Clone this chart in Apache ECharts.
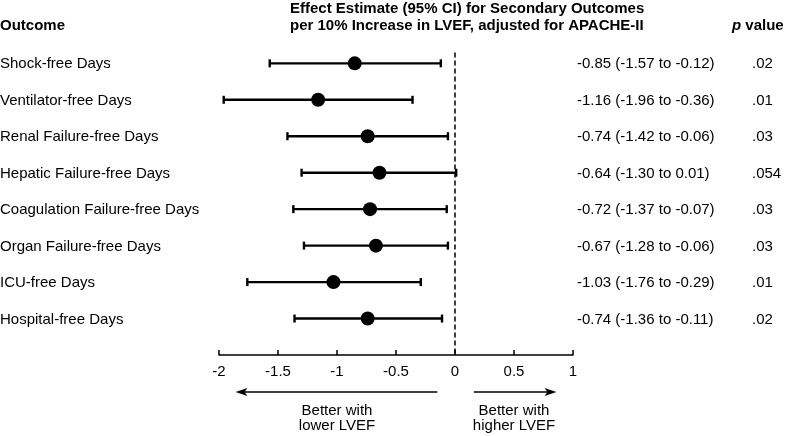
<!DOCTYPE html>
<html>
<head>
<meta charset="utf-8">
<script src="https://cdn.jsdelivr.net/npm/echarts@6/dist/echarts.min.js"></script>
<style>
html,body{margin:0;padding:0;background:#fff;}
#chart{width:787px;height:436px;}
</style>
</head>
<body>
<div id="chart"></div>
<script>
const categories = ['Shock-free Days', 'Ventilator-free Days', 'Renal Failure-free Days', 'Hepatic Failure-free Days', 'Coagulation Failure-free Days', 'Organ Failure-free Days', 'ICU-free Days', 'Hospital-free Days'];
const estimates = [-0.85, -1.16, -0.74, -0.64, -0.72, -0.67, -1.03, -0.74];
const lowerCI = [-1.57, -1.96, -1.42, -1.30, -1.37, -1.28, -1.76, -1.36];
const upperCI = [-0.12, -0.36, -0.06, 0.01, -0.07, -0.06, -0.29, -0.11];
const pValues = ['.02', '.01', '.03', '.054', '.03', '.03', '.01', '.02'];
const tickLabels = ['-2', '-1.5', '-1', '-0.5', '0', '0.5', '1'];
const xMin = -2, xMax = 1, xStep = 0.5;

const FONT = "'Liberation Sans', Arial, Helvetica, sans-serif";
const INK = '#000';

const chart = echarts.init(document.getElementById('chart'), null, {renderer: 'canvas'});

const data = categories.map((c, i) => [i + 1, estimates[i], lowerCI[i], upperCI[i]]);

function fmt(v) { return v.toFixed(2); }

const option = {
  backgroundColor: '#fff',
  animation: false,
  grid: {left: 219, right: 214, top: 52.4, bottom: 81},
  xAxis: {
    type: 'value', min: xMin, max: xMax, interval: xStep,
    axisLine: {show: true, onZero: false, lineStyle: {color: INK, width: 1.5}},
    axisTick: {show: true, inside: true, length: 5, lineStyle: {color: INK, width: 1.5}},
    axisLabel: {
      color: INK, fontSize: 15, fontFamily: FONT, margin: 9,
      formatter: function (v) { const idx = Math.round((v - xMin) / xStep); return tickLabels[idx] ?? ''; }
    },
    splitLine: {show: false}
  },
  yAxis: {type: 'value', inverse: true, min: 0.7, max: 9, show: false},
  graphic: [
    {type: 'text', left: 0, top: 18, style: {text: 'Outcome', font: 'bold 15px ' + FONT, fill: INK}},
    {type: 'text', left: 290, top: 0, style: {text: 'Effect Estimate (95% CI) for Secondary Outcomes\nper 10% Increase in LVEF, adjusted for APACHE-II', font: 'bold 15px ' + FONT, fill: INK, lineHeight: 17}},
    {type: 'text', left: 732, top: 18, style: {
      text: '{i|p} {b|value}', font: 'bold 15px ' + FONT, fill: INK,
      rich: {i: {fontStyle: 'italic', fontWeight: 'bold', fontSize: 15, fontFamily: FONT, fill: INK}, b: {fontWeight: 'bold', fontSize: 15, fontFamily: FONT, fill: INK}}
    }}
  ],
  series: [{
    type: 'custom',
    data: data,
    encode: {x: [1, 2, 3], y: 0},
    clip: false,
    renderItem: function (params, api) {
      const row = api.value(0);
      const est = api.value(1), lo = api.value(2), hi = api.value(3);
      const pE = api.coord([est, row]);
      const pL = api.coord([lo, row]);
      const pH = api.coord([hi, row]);
      const capH = 4;
      const idx = params.dataIndex;
      const ls = {stroke: INK, lineWidth: 2.4};
      return {
        type: 'group',
        children: [
          {type: 'line', shape: {x1: pL[0], y1: pL[1], x2: pH[0], y2: pH[1]}, style: ls},
          {type: 'line', shape: {x1: pL[0], y1: pL[1] - capH, x2: pL[0], y2: pL[1] + capH}, style: ls},
          {type: 'line', shape: {x1: pH[0], y1: pH[1] - capH, x2: pH[0], y2: pH[1] + capH}, style: ls},
          {type: 'circle', shape: {cx: pE[0], cy: pE[1], r: 7}, style: {fill: INK}},
          {type: 'text', x: 0, y: pE[1] + 1, style: {text: categories[idx], font: '15px ' + FONT, fill: INK, textVerticalAlign: 'middle', textAlign: 'left'}},
          {type: 'text', x: 577, y: pE[1] + 1, style: {text: fmt(est) + ' (' + fmt(lo) + ' to ' + fmt(hi) + ')', font: '15px ' + FONT, fill: INK, textVerticalAlign: 'middle', textAlign: 'left'}},
          {type: 'text', x: 752, y: pE[1] + 1, style: {text: pValues[idx], font: '15px ' + FONT, fill: INK, textVerticalAlign: 'middle', textAlign: 'left'}}
        ]
      };
    },
    markLine: {
      silent: true, symbol: 'none', label: {show: false},
      lineStyle: {color: INK, type: [5, 3], width: 1.5},
      data: [{xAxis: 0}]
    }
  }]
};
chart.setOption(option);

// Annotation arrows below the axis
const px = v => chart.convertToPixel({gridIndex: 0}, [v, 1])[0];
const arrowY = 392;
function arrow(x1, x2) {
  const dir = x2 > x1 ? 1 : -1;
  const headLen = 12, headHalf = 4;
  return [
    {type: 'line', shape: {x1: x1, y1: arrowY, x2: x2 - dir * headLen * 0.7, y2: arrowY}, style: {stroke: INK, lineWidth: 1.5}},
    {type: 'polygon', shape: {points: [[x2, arrowY], [x2 - dir * headLen, arrowY - headHalf], [x2 - dir * headLen * 0.75, arrowY], [x2 - dir * headLen, arrowY + headHalf]]}, style: {fill: INK}}
  ];
}
const g = option.graphic.concat(
  arrow(px(-0.15), px(-1.86)),
  arrow(px(0.16), px(0.86)),
  [
    {type: 'text', x: px(-1), y: 403, style: {text: 'Better with\nlower LVEF', font: '15px ' + FONT, fill: INK, textAlign: 'center', lineHeight: 15}},
    {type: 'text', x: px(0.5), y: 403, style: {text: 'Better with\nhigher LVEF', font: '15px ' + FONT, fill: INK, textAlign: 'center', lineHeight: 15}}
  ]
);
chart.setOption({graphic: g}, {replaceMerge: ['graphic']});
</script>
</body>
</html>
